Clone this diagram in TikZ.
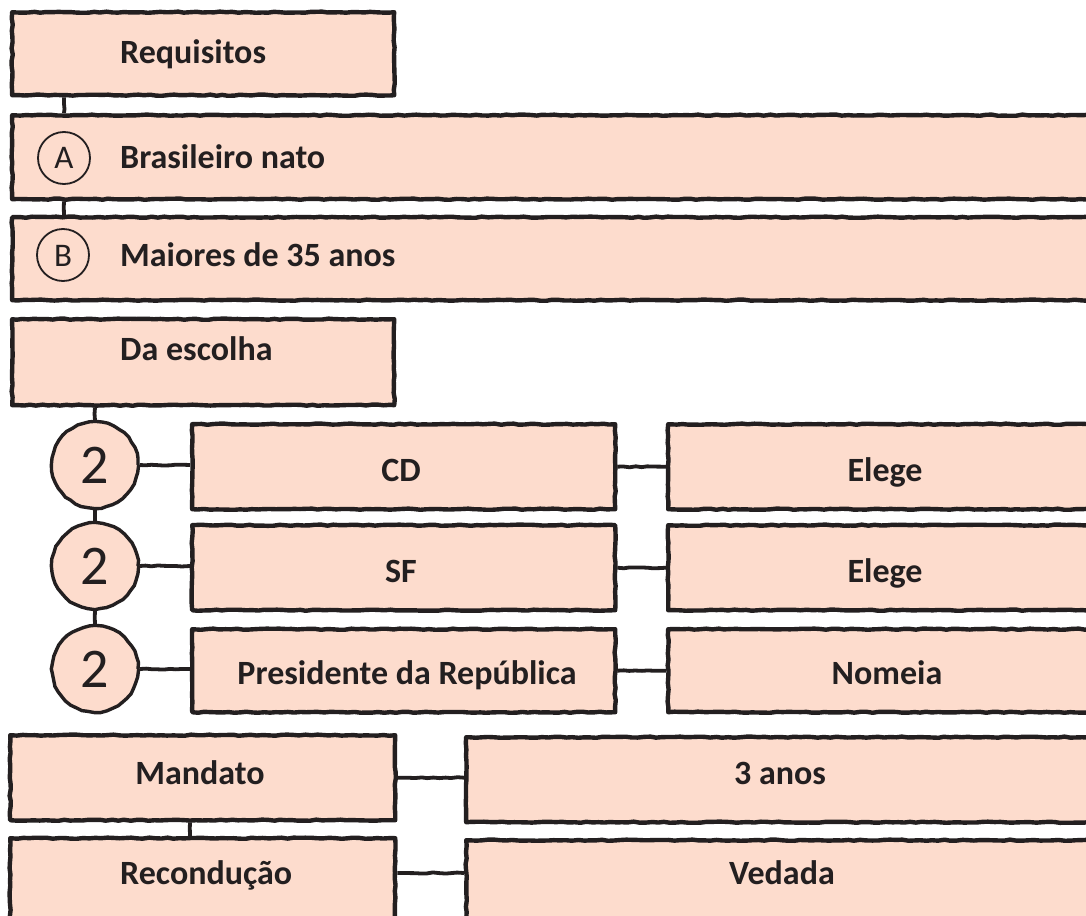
\documentclass[tikz,border=0pt]{standalone}
\usepackage{fontspec}
\setmainfont{Carlito}
\usetikzlibrary{decorations.pathmorphing,calc}
\definecolor{peach}{HTML}{FDDCCD}
\definecolor{ink}{HTML}{231F20}
\begin{document}
\pgfmathsetseed{7}
\begin{tikzpicture}[x=1pt,y=-1pt,
  rough/.style={decorate, decoration={random steps, segment length=6pt, amplitude=0.6pt}},
  boxst/.style={draw=ink, fill=peach, line width=4.4pt, rough, inner sep=0pt,
    anchor=north west, line join=round},
  bignum/.style={circle, draw=ink, fill=peach, line width=3.4pt, rough, minimum size=86pt,
    inner sep=0pt, font=\fontsize{56}{56}\selectfont, text=ink},
  letc/.style={circle, draw=ink, line width=1.8pt, minimum size=52pt, inner sep=0pt},
  lbl/.style={font=\fontsize{34}{34}\selectfont\bfseries, text=ink, inner sep=0pt},
  letlbl/.style={font=\fontsize{33}{33}\selectfont, text=ink, inner sep=0pt, anchor=base},
  conn/.style={draw=ink, line width=3.8pt, rough}]
\clip (0,0) rectangle (1086,915);
\fill[white] (0,0) rectangle (1086,915);

% boxes
\node[boxst, minimum width=382, minimum height=83] (req) at (10,10) {};
\node[boxst, minimum width=1100, minimum height=84] (ba) at (10,113) {};
\node[boxst, minimum width=1100, minimum height=83] (bb) at (10,215) {};
\node[boxst, minimum width=382, minimum height=86] (esc) at (10,317) {};
\node[boxst, minimum width=423, minimum height=85] (cd) at (190,422) {};
\node[boxst, minimum width=423, minimum height=85] (sf) at (190,523) {};
\node[boxst, minimum width=423, minimum height=83] (pr) at (190,627) {};
\node[boxst, minimum width=440, minimum height=85] (e1) at (666,422) {};
\node[boxst, minimum width=440, minimum height=85] (e2) at (666,523) {};
\node[boxst, minimum width=440, minimum height=83] (nm) at (666,627) {};
\node[boxst, minimum width=385, minimum height=85] (man) at (8,733) {};
\node[boxst, minimum width=640, minimum height=85] (tres) at (464,735) {};
\node[boxst, minimum width=385, minimum height=95] (rec) at (8,836) {};
\node[boxst, minimum width=640, minimum height=95] (ved) at (464,838) {};

% letter circles
\node[letc] (ca) at (64,158) {};
\node[letlbl] (ta) at (64,168) {A};
\node[letc] (cb) at (63,255) {};
\node[letlbl] (tb) at (63,266) {B};

% number circles
\node[bignum] (c1) at (95,465) {2};
\node[bignum] (c2) at (95,566) {2};
\node[bignum] (c3) at (95,669) {2};

% labels
\node[lbl, anchor=base west] (treq) at (120,64) {Requisitos};
\node[lbl, anchor=base west] (tba) at (120,168) {Brasileiro nato};
\node[lbl, anchor=base west] (tbb) at (120,266) {Maiores de 35 anos};
\node[lbl, anchor=base west] (tesc) at (120,360) {Da escolha};
\node[lbl, anchor=base] (tcd) at (401,481) {CD};
\node[lbl, anchor=base] (tsf) at (401,582) {SF};
\node[lbl, anchor=base] (tpr) at (407,684) {Presidente da República};
\node[lbl, anchor=base] (te1) at (885,481) {Elege};
\node[lbl, anchor=base] (te2) at (885,582) {Elege};
\node[lbl, anchor=base] (tnm) at (887,684) {Nomeia};
\node[lbl, anchor=base] (tman) at (200,784) {Mandato};
\node[lbl, anchor=base] (ttres) at (780,784) {3 anos};
\node[lbl, anchor=base west] (trec) at (120,884) {Recondução};
\node[lbl, anchor=base] (tved) at (782,884) {Vedada};

% connectors
\coordinate (mx) at (190,0);
\draw[conn] (ca |- req.south) -- (ca |- ba.north);
\draw[conn] (ca |- ba.south) -- (ca |- bb.north);
\draw[conn] (c1 |- esc.south) -- (c1.north);
\draw[conn] (c1.south) -- (c2.north);
\draw[conn] (c2.south) -- (c3.north);
\draw[conn] (c1.east) -- (c1.east -| cd.west);
\draw[conn] (c2.east) -- (c2.east -| sf.west);
\draw[conn] (c3.east) -- (c3.east -| pr.west);
\draw[conn] (cd.east) -- (cd.east -| e1.west);
\draw[conn] (sf.east) -- (sf.east -| e2.west);
\draw[conn] (pr.east) -- (pr.east -| nm.west);
\draw[conn] (man.east) -- (man.east -| tres.west);
\draw[conn] ($(rec.north east)+(0,37)$) -- ($(ved.north west)+(0,35)$);
\draw[conn] (mx |- man.south) -- (mx |- rec.north);
\end{tikzpicture}
\end{document}
